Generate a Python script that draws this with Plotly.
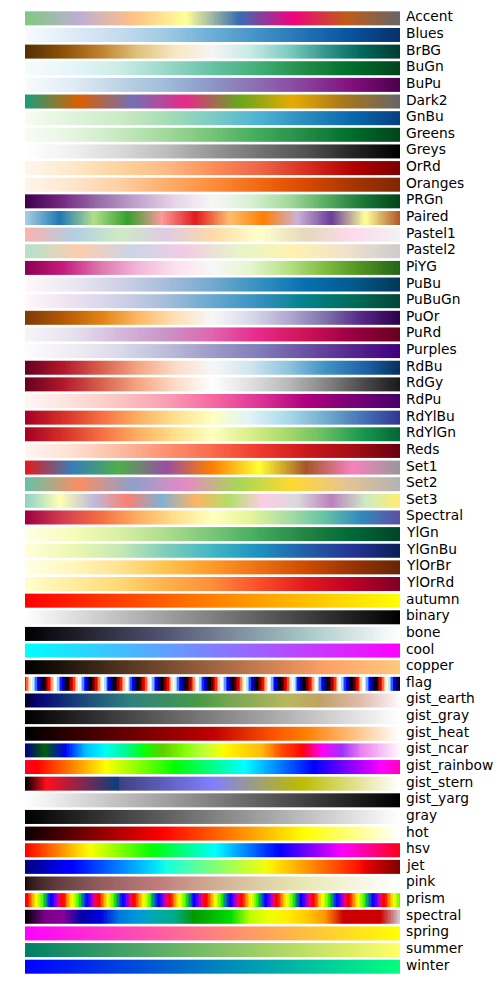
import numpy as np
import plotly.graph_objects as go

# ---- colormap names, in display order (top to bottom) ----
NAMES = ["Accent", "Blues", "BrBG", "BuGn", "BuPu", "Dark2", "GnBu", "Greens", "Greys",
         "OrRd", "Oranges", "PRGn", "Paired", "Pastel1", "Pastel2", "PiYG", "PuBu",
         "PuBuGn", "PuOr", "PuRd", "Purples", "RdBu", "RdGy", "RdPu", "RdYlBu", "RdYlGn",
         "Reds", "Set1", "Set2", "Set3", "Spectral", "YlGn", "YlGnBu", "YlOrBr", "YlOrRd",
         "autumn", "binary", "bone", "cool", "copper", "flag", "gist_earth", "gist_gray",
         "gist_heat", "gist_ncar", "gist_rainbow", "gist_stern", "gist_yarg", "gray", "hot",
         "hsv", "jet", "pink", "prism", "spectral", "spring", "summer", "winter"]

# ---- ColorBrewer-style colour lists (evenly spaced stops) ----
ACCENT = ["#7fc97f", "#beaed4", "#fdc086", "#ffff99", "#386cb0", "#f0027f", "#bf5b17", "#666666"]
BLUES = ["#f7fbff", "#deebf7", "#c6dbef", "#9ecae1", "#6baed6", "#4292c6", "#2171b5", "#08519c", "#08306b"]
BRBG = ["#543005", "#8c510a", "#bf812d", "#dfc27d", "#f6e8c3", "#f5f5f5", "#c7eae5", "#80cdc1", "#35978f", "#01665e", "#003c30"]
BUGN = ["#f7fcfd", "#e5f5f9", "#ccece6", "#99d8c9", "#66c2a4", "#41ae76", "#238b45", "#006d2c", "#00441b"]
BUPU = ["#f7fcfd", "#e0ecf4", "#bfd3e6", "#9ebcda", "#8c96c6", "#8c6bb1", "#88419d", "#810f7c", "#4d004b"]
DARK2 = ["#1b9e77", "#d95f02", "#7570b3", "#e7298a", "#66a61e", "#e6ab02", "#a6761d", "#666666"]
GNBU = ["#f7fcf0", "#e0f3db", "#ccebc5", "#a8ddb5", "#7bccc4", "#4eb3d3", "#2b8cbe", "#0868ac", "#084081"]
GREENS = ["#f7fcf5", "#e5f5e0", "#c7e9c0", "#a1d99b", "#74c476", "#41ab5d", "#238b45", "#006d2c", "#00441b"]
GREYS = ["#ffffff", "#f0f0f0", "#d9d9d9", "#bdbdbd", "#969696", "#737373", "#525252", "#252525", "#000000"]
ORRD = ["#fff7ec", "#fee8c8", "#fdd49e", "#fdbb84", "#fc8d59", "#ef6548", "#d7301f", "#b30000", "#7f0000"]
ORANGES = ["#fff5eb", "#fee6ce", "#fdd0a2", "#fdae6b", "#fd8d3c", "#f16913", "#d94801", "#a63603", "#7f2704"]
PRGN = ["#40004b", "#762a83", "#9970ab", "#c2a5cf", "#e7d4e8", "#f7f7f7", "#d9f0d3", "#a6dba0", "#5aae61", "#1b7837", "#00441b"]
PAIRED = ["#a6cee3", "#1f78b4", "#b2df8a", "#33a02c", "#fb9a99", "#e31a1c", "#fdbf6f", "#ff7f00", "#cab2d6", "#6a3d9a", "#ffff99", "#b15928"]
PASTEL1 = ["#fbb4ae", "#b3cde3", "#ccebc5", "#decbe4", "#fed9a6", "#ffffcc", "#e5d8bd", "#fddaec", "#f2f2f2"]
PASTEL2 = ["#b3e2cd", "#fdcdac", "#cbd5e8", "#f4cae4", "#e6f5c9", "#fff2ae", "#f1e2cc", "#cccccc"]
PIYG = ["#8e0152", "#c51b7d", "#de77ae", "#f1b6da", "#fde0ef", "#f7f7f7", "#e6f5d0", "#b8e186", "#7fbc41", "#4d9221", "#276419"]
PUBU = ["#fff7fb", "#ece7f2", "#d0d1e6", "#a6bddb", "#74a9cf", "#3690c0", "#0570b0", "#045a8d", "#023858"]
PUBUGN = ["#fff7fb", "#ece2f0", "#d0d1e6", "#a6bddb", "#67a9cf", "#3690c0", "#02818a", "#016c59", "#014636"]
PUOR = ["#7f3b08", "#b35806", "#e08214", "#fdb863", "#fee0b6", "#f7f7f7", "#d8daeb", "#b2abd2", "#8073ac", "#542788", "#2d004b"]
PURD = ["#f7f4f9", "#e7e1ef", "#d4b9da", "#c994c7", "#df65b0", "#e7298a", "#ce1256", "#980043", "#67001f"]
PURPLES = ["#fcfbfd", "#efedf5", "#dadaeb", "#bcbddc", "#9e9ac8", "#807dba", "#6a51a3", "#54278f", "#3f007d"]
RDBU = ["#67001f", "#b2182b", "#d6604d", "#f4a582", "#fddbc7", "#f7f7f7", "#d1e5f0", "#92c5de", "#4393c3", "#2166ac", "#053061"]
RDGY = ["#67001f", "#b2182b", "#d6604d", "#f4a582", "#fddbc7", "#ffffff", "#e0e0e0", "#bababa", "#878787", "#4d4d4d", "#1a1a1a"]
RDPU = ["#fff7f3", "#fde0dd", "#fcc5c0", "#fa9fb5", "#f768a1", "#dd3497", "#ae017e", "#7a0177", "#49006a"]
RDYLBU = ["#a50026", "#d73027", "#f46d43", "#fdae61", "#fee090", "#ffffbf", "#e0f3f8", "#abd9e9", "#74add1", "#4575b4", "#313695"]
RDYLGN = ["#a50026", "#d73027", "#f46d43", "#fdae61", "#fee08b", "#ffffbf", "#d9ef8b", "#a6d96a", "#66bd63", "#1a9850", "#006837"]
REDS = ["#fff5f0", "#fee0d2", "#fcbba1", "#fc9272", "#fb6a4a", "#ef3b2c", "#cb181d", "#a50f15", "#67000d"]
SET1 = ["#e41a1c", "#377eb8", "#4daf4a", "#984ea3", "#ff7f00", "#ffff33", "#a65628", "#f781bf", "#999999"]
SET2 = ["#66c2a5", "#fc8d62", "#8da0cb", "#e78ac3", "#a6d854", "#ffd92f", "#e5c494", "#b3b3b3"]
SET3 = ["#8dd3c7", "#ffffb3", "#bebada", "#fb8072", "#80b1d3", "#fdb462", "#b3de69", "#fccde5", "#d9d9d9", "#bc80bd", "#ccebc5", "#ffed6f"]
SPECTRAL = ["#9e0142", "#d53e4f", "#f46d43", "#fdae61", "#fee08b", "#ffffbf", "#e6f598", "#abdda4", "#66c2a5", "#3288bd", "#5e4fa2"]
YLGN = ["#ffffe5", "#f7fcb9", "#d9f0a3", "#addd8e", "#78c679", "#41ab5d", "#238443", "#006837", "#004529"]
YLGNBU = ["#ffffd9", "#edf8b1", "#c7e9b4", "#7fcdbb", "#41b6c4", "#1d91c0", "#225ea8", "#253494", "#081d58"]
YLORBR = ["#ffffe5", "#fff7bc", "#fee391", "#fec44f", "#fe9929", "#ec7014", "#cc4c02", "#993404", "#662506"]
YLORRD = ["#ffffcc", "#ffeda0", "#fed976", "#feb24c", "#fd8d3c", "#fc4e2a", "#e31a1c", "#bd0026", "#800026"]

AUTUMN = ["#ff0000", "#ffff00"]
BINARY = ["#ffffff", "#000000"]
COOL = ["#00ffff", "#ff00ff"]
GRAY = ["#000000", "#ffffff"]
YARG = ["#ffffff", "#000000"]
SPRING = ["#ff00ff", "#ffff00"]
SUMMER = ["#008066", "#ffff66"]
WINTER = ["#0000ff", "#00ff80"]

# ---- segment-data colormaps: channel -> (x, y_left, y_right) ----
BONE = {"r": [(0, 0, 0), (0.746032, 0.652778, 0.652778), (1, 1, 1)],
        "g": [(0, 0, 0), (0.365079, 0.319444, 0.319444), (0.746032, 0.777778, 0.777778), (1, 1, 1)],
        "b": [(0, 0, 0), (0.365079, 0.444444, 0.444444), (1, 1, 1)]}
COPPER = {"r": [(0, 0, 0), (0.809524, 1, 1), (1, 1, 1)],
          "g": [(0, 0, 0), (1, 0.7812, 0.7812)],
          "b": [(0, 0, 0), (1, 0.4975, 0.4975)]}
HOT = {"r": [(0, 0.0416, 0.0416), (0.365079, 1, 1), (1, 1, 1)],
       "g": [(0, 0, 0), (0.365079, 0, 0), (0.746032, 1, 1), (1, 1, 1)],
       "b": [(0, 0, 0), (0.746032, 0, 0), (1, 1, 1)]}
GIST_HEAT = {"r": [(0, 0, 0), (0.666667, 1, 1), (1, 1, 1)],
             "g": [(0, 0, 0), (0.5, 0, 0), (1, 1, 1)],
             "b": [(0, 0, 0), (0.75, 0, 0), (1, 1, 1)]}
GIST_STERN = {"r": [(0, 0, 0), (0.0547, 1, 1), (0.250, 0.027, 0.250), (1, 1, 1)],
              "g": [(0, 0, 0), (1, 1, 1)],
              "b": [(0, 0, 0), (0.5, 1, 1), (0.735, 0, 0), (1, 1, 1)]}
GIST_EARTH = {
    "r": [(0, 0, 0), (0.2824, 0.1882, 0.1882), (0.4588, 0.2714, 0.2714), (0.5490, 0.4719, 0.4719),
          (0.6980, 0.7176, 0.7176), (0.7882, 0.7553, 0.7553), (1, 0.9922, 0.9922)],
    "g": [(0, 0, 0), (0.0275, 0, 0), (0.1098, 0.1893, 0.1893), (0.1647, 0.3035, 0.3035),
          (0.2078, 0.3841, 0.3841), (0.2824, 0.5020, 0.5020), (0.5216, 0.6397, 0.6397),
          (0.6980, 0.7171, 0.7171), (0.7882, 0.6392, 0.6392), (0.8157, 0.6549, 0.6549),
          (0.8980, 0.7430, 0.7430), (0.9412, 0.8275, 0.8275), (0.9647, 0.8816, 0.8816),
          (1, 0.9843, 0.9843)],
    "b": [(0, 0, 0), (0.0039, 0.1684, 0.1684), (0.0078, 0.2212, 0.2212), (0.0275, 0.4329, 0.4329),
          (0.0314, 0.4549, 0.4549), (0.2824, 0.5004, 0.5004), (0.4667, 0.2748, 0.2748),
          (0.5451, 0.3205, 0.3205), (0.7843, 0.3961, 0.3961), (0.8941, 0.6651, 0.6651),
          (1, 0.9843, 0.9843)]}
GIST_NCAR = {
    "r": [(0, 0, 0), (0.3098, 0, 0), (0.3725, 0.3993, 0.3993), (0.4235, 0.5003, 0.5003),
          (0.5333, 1, 1), (0.7922, 1, 1), (0.8471, 0.6218, 0.6218), (0.8980, 0.9235, 0.9235),
          (1, 0.9961, 0.9961)],
    "g": [(0, 0, 0), (0.0510, 0.3722, 0.3722), (0.1059, 0, 0), (0.1569, 0.7202, 0.7202),
          (0.1647, 0.7752, 0.7752), (0.2157, 1, 1), (0.2588, 0.9804, 0.9804), (0.2706, 0.9804, 0.9804),
          (0.3176, 1, 1), (0.3686, 0.8081, 0.8081), (0.4275, 1, 1), (0.5216, 1, 1),
          (0.6314, 0.7292, 0.7292), (0.6863, 0.2796, 0.2796), (0.7451, 0, 0), (0.7922, 0, 0),
          (0.8431, 0.1753, 0.1753), (0.8980, 0.5, 0.5), (1, 0.9725, 0.9725)],
    "b": [(0, 0.5020, 0.5020), (0.0510, 0.0222, 0.0222), (0.1098, 1, 1), (0.2039, 1, 1),
          (0.2627, 0.6145, 0.6145), (0.3216, 0, 0), (0.4157, 0, 0), (0.4745, 0.2342, 0.2342),
          (0.5333, 0, 0), (0.5804, 0, 0), (0.6314, 0.0549, 0.0549), (0.6902, 0, 0),
          (0.7373, 0, 0), (0.7922, 0.9738, 0.9738), (0.8000, 1, 1), (0.8431, 1, 1),
          (0.8980, 0.9341, 0.9341), (1, 0.9961, 0.9961)]}
HSV = {"r": [(0, 1, 1), (0.158730, 1, 1), (0.174603, 0.96875, 0.96875), (0.333333, 0.03125, 0.03125),
             (0.349206, 0, 0), (0.666667, 0, 0), (0.682540, 0.03125, 0.03125),
             (0.841270, 0.96875, 0.96875), (0.857143, 1, 1), (1, 1, 1)],
       "g": [(0, 0, 0), (0.158730, 0.9375, 0.9375), (0.174603, 1, 1), (0.507937, 1, 1),
             (0.666667, 0.0625, 0.0625), (0.682540, 0, 0), (1, 0, 0)],
       "b": [(0, 0, 0), (0.333333, 0, 0), (0.349206, 0.0625, 0.0625), (0.507937, 1, 1),
             (0.841270, 1, 1), (0.857143, 0.9375, 0.9375), (1, 0.09375, 0.09375)]}
JET = {"r": [(0, 0, 0), (0.35, 0, 0), (0.66, 1, 1), (0.89, 1, 1), (1, 0.5, 0.5)],
       "g": [(0, 0, 0), (0.125, 0, 0), (0.375, 1, 1), (0.64, 1, 1), (0.91, 0, 0), (1, 0, 0)],
       "b": [(0, 0.5, 0.5), (0.11, 1, 1), (0.34, 1, 1), (0.65, 0, 0), (1, 0, 0)]}

# ---- stop-list colormaps: (position, hex) ----
GIST_RAINBOW = [(0.000, "#ff0029"), (0.030, "#ff0000"), (0.215, "#ffff00"), (0.400, "#00ff00"),
                (0.586, "#00ffff"), (0.770, "#0000ff"), (0.954, "#ff00ff"), (1.000, "#ff00bf")]
SPECTRAL_X = [0.00, 0.05, 0.10, 0.15, 0.20, 0.25, 0.30, 0.35, 0.40, 0.45, 0.50,
              0.55, 0.60, 0.65, 0.70, 0.75, 0.80, 0.85, 0.90, 0.95, 1.00]
SPECTRAL_R = [0, 0.4667, 0.5333, 0, 0, 0, 0, 0, 0, 0, 0,
              0, 0.7333, 0.9333, 1, 1, 1, 0.8, 0.8, 0.8, 0.8]
SPECTRAL_G = [0, 0, 0, 0, 0, 0.4667, 0.6, 0.6667, 0.6667, 0.6, 0.7333,
              0.8667, 1, 1, 0.9333, 0.8, 0.6, 0, 0, 0, 0.8]
SPECTRAL_B = [0, 0.5333, 0.6, 0.6667, 0.8667, 0.8667, 0.8667, 0.6667, 0.5333, 0, 0,
              0, 0, 0, 0, 0, 0, 0, 0, 0, 0.8]

N = 256
XS = np.linspace(0, 1, N)


def hex_rgb(h):
    h = h.lstrip("#")
    return [int(h[i:i + 2], 16) / 255.0 for i in (0, 2, 4)]


def lut_from_list(hexes):
    cols = np.array([hex_rgb(h) for h in hexes])
    pos = np.linspace(0, 1, len(hexes))
    return np.stack([np.interp(XS, pos, cols[:, c]) for c in range(3)], axis=1)


def lut_from_stops(stops):
    pos = [p for p, _ in stops]
    cols = np.array([hex_rgb(h) for _, h in stops])
    return np.stack([np.interp(XS, pos, cols[:, c]) for c in range(3)], axis=1)


def channel_from_segments(seg):
    x = np.array([s[0] for s in seg])
    y0 = np.array([s[1] for s in seg])
    y1 = np.array([s[2] for s in seg])
    out = np.empty(N)
    for k, v in enumerate(XS):
        if v >= x[-1]:
            out[k] = y0[-1]
            continue
        i = np.searchsorted(x, v, side="right") - 1
        t = (v - x[i]) / (x[i + 1] - x[i])
        out[k] = y1[i] + (y0[i + 1] - y1[i]) * t
    return out


def lut_from_segments(d):
    return np.stack([channel_from_segments(d[c]) for c in "rgb"], axis=1)


def lut_flag():
    r = 0.75 * np.sin((XS * 31.5 + 0.25) * np.pi) + 0.5
    g = np.sin(XS * 31.5 * np.pi)
    b = 0.75 * np.sin((XS * 31.5 - 0.25) * np.pi) + 0.5
    return np.clip(np.stack([r, g, b], axis=1), 0, 1)


def lut_prism():
    r = 0.75 * np.sin((XS * 20.9 + 0.25) * np.pi) + 0.67
    g = 0.75 * np.sin((XS * 20.9 - 0.25) * np.pi) + 0.33
    b = -1.1 * np.sin(XS * 20.9 * np.pi)
    return np.clip(np.stack([r, g, b], axis=1), 0, 1)


def lut_pink():
    hot = lut_from_segments(HOT)
    gray = XS[:, None]
    return np.sqrt((2 * gray + hot) / 3.0)


def lut_spectral():
    return np.stack([np.interp(XS, SPECTRAL_X, SPECTRAL_R),
                     np.interp(XS, SPECTRAL_X, SPECTRAL_G),
                     np.interp(XS, SPECTRAL_X, SPECTRAL_B)], axis=1)


LISTS = {"Accent": ACCENT, "Blues": BLUES, "BrBG": BRBG, "BuGn": BUGN, "BuPu": BUPU,
         "Dark2": DARK2, "GnBu": GNBU, "Greens": GREENS, "Greys": GREYS, "OrRd": ORRD,
         "Oranges": ORANGES, "PRGn": PRGN, "Paired": PAIRED, "Pastel1": PASTEL1,
         "Pastel2": PASTEL2, "PiYG": PIYG, "PuBu": PUBU, "PuBuGn": PUBUGN, "PuOr": PUOR,
         "PuRd": PURD, "Purples": PURPLES, "RdBu": RDBU, "RdGy": RDGY, "RdPu": RDPU,
         "RdYlBu": RDYLBU, "RdYlGn": RDYLGN, "Reds": REDS, "Set1": SET1, "Set2": SET2,
         "Set3": SET3, "Spectral": SPECTRAL, "YlGn": YLGN, "YlGnBu": YLGNBU,
         "YlOrBr": YLORBR, "YlOrRd": YLORRD, "autumn": AUTUMN, "binary": BINARY,
         "cool": COOL, "gist_gray": GRAY, "gist_yarg": YARG, "gray": GRAY,
         "spring": SPRING, "summer": SUMMER, "winter": WINTER}
SEGS = {"bone": BONE, "copper": COPPER, "hot": HOT, "gist_heat": GIST_HEAT,
        "gist_stern": GIST_STERN, "gist_earth": GIST_EARTH, "gist_ncar": GIST_NCAR,
        "hsv": HSV, "jet": JET}


def get_lut(name):
    if name in LISTS:
        return lut_from_list(LISTS[name])
    if name in SEGS:
        return lut_from_segments(SEGS[name])
    if name == "gist_rainbow":
        return lut_from_stops(GIST_RAINBOW)
    if name == "flag":
        return lut_flag()
    if name == "prism":
        return lut_prism()
    if name == "pink":
        return lut_pink()
    if name == "spectral":
        return lut_spectral()
    raise KeyError(name)


def to_colorscale(lut):
    lut = np.clip(np.round(lut * 255), 0, 255).astype(int)
    return [[k / (N - 1), "rgb(%d,%d,%d)" % tuple(lut[k])] for k in range(N)]


fig = go.Figure()
HALF = 0.42
x_edges = np.arange(N + 1)
z_row = [list(range(N))]
for i, name in enumerate(NAMES):
    fig.add_trace(go.Heatmap(
        z=z_row, x=x_edges, y=[i - HALF, i + HALF],
        colorscale=to_colorscale(get_lut(name)), zmin=0, zmax=N - 1,
        showscale=False, hoverinfo="skip"))
    fig.add_annotation(x=1, xref="paper", y=i, yref="y", text=name,
                       xanchor="left", yanchor="middle", xshift=4, yshift=2,
                       showarrow=False,
                       font=dict(family="DejaVu Sans", size=13.8, color="black"))

fig.update_xaxes(range=[0, N], visible=False, showgrid=False, zeroline=False)
fig.update_yaxes(range=[len(NAMES) - 0.5, -0.5], visible=False, showgrid=False, zeroline=False)
fig.update_layout(width=500, height=1000, margin=dict(l=25, r=100, t=10, b=25),
                  paper_bgcolor="white", plot_bgcolor="white", showlegend=False)

fig.write_html("out.html")
